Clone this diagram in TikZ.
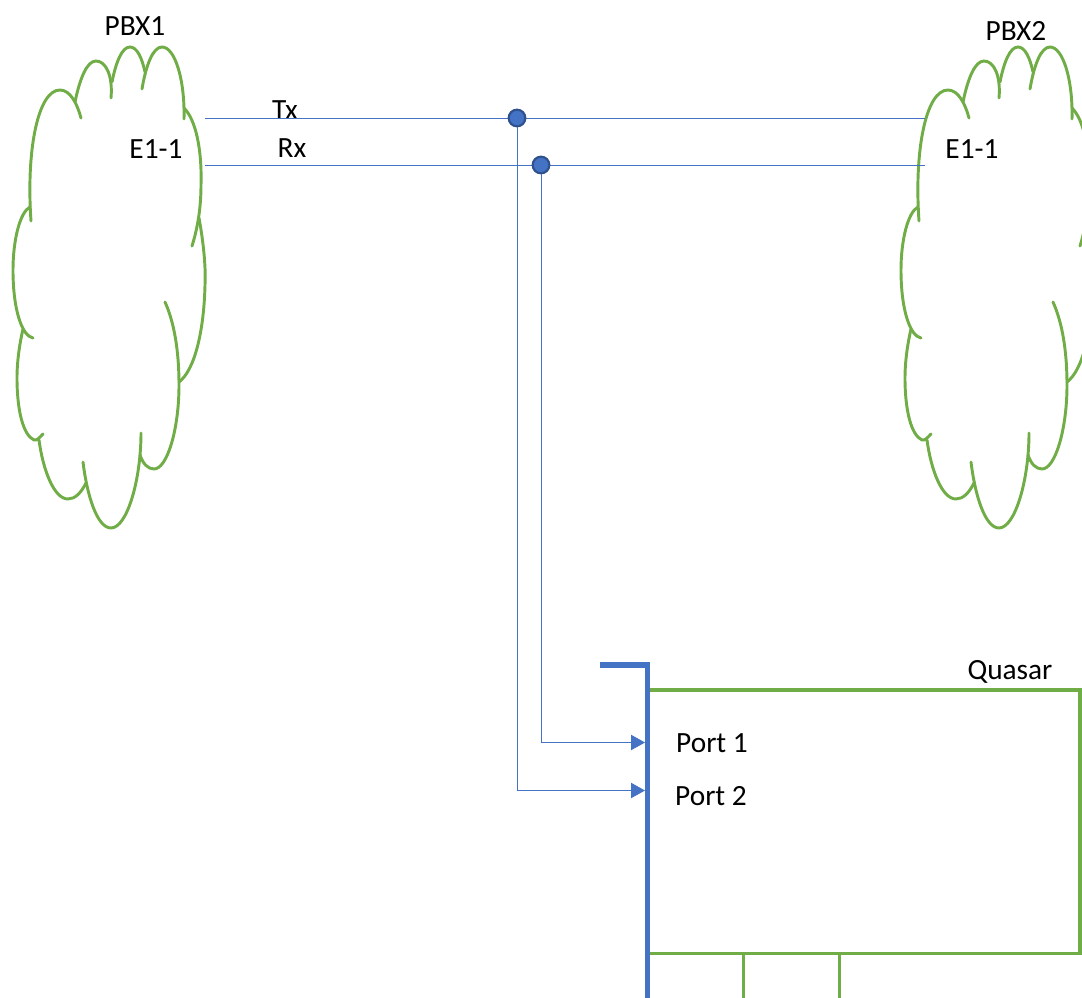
\documentclass[tikz,border=0pt]{standalone}
\usepackage{fontspec}
\setmainfont{Carlito}
\usetikzlibrary{arrows.meta}

\definecolor{wireblue}{HTML}{4472C4}
\definecolor{dotblue}{HTML}{2F528F}
\definecolor{boxgreen}{HTML}{70AD47}

\tikzset{
  txt/.style={font=\fontsize{22}{24}\selectfont, inner sep=0pt, text=black},
  wire/.style={draw=wireblue, line width=.7pt},
  feed/.style={wire, -{Triangle[length=10.5pt,width=11.5pt]}},
  tap/.style={circle, fill=wireblue, draw=dotblue, line width=1.6pt, minimum size=12.5pt, inner sep=0pt},
  bus/.style={draw=wireblue, line width=3.8pt},
  box/.style={draw=boxgreen, line width=2.4pt},
  puff/.style={draw=boxgreen, line width=2.2pt, line cap=round},
  pbxcloud/.pic={
    \draw[puff] (31,221) .. controls (26,150) and (38,90) .. (60,90) .. controls (70,90) and (77,103) .. (81,118);
    \draw[puff] (75,102) .. controls (80,78) and (87,61) .. (96,61) .. controls (106,61) and (113,76) .. (111,98);
    \draw[puff] (112,82) .. controls (116,62) and (122,47) .. (130,47) .. controls (137,47) and (142,58) .. (145,72);
    \draw[puff] (142,89) .. controls (146,65) and (153,47) .. (162,47) .. controls (175,47) and (185,80) .. (184,119);
    \draw[puff] (184,108) .. controls (196,120) and (202,150) .. (201,185) .. controls (201,210) and (197,230) .. (192,246);
    \draw[puff] (199,218) .. controls (203,240) and (206,265) .. (205,285) .. controls (204,330) and (195,370) .. (179,382);
    \draw[puff] (165,302) .. controls (174,322) and (179,350) .. (179,385) .. controls (179,430) and (167,469) .. (154,469) .. controls (148,469) and (143,464) .. (140,455);
    \draw[puff] (141,433) .. controls (141,480) and (127,528) .. (111,528) .. controls (97,528) and (87,495) .. (83,462);
    \draw[puff] (86,483) .. controls (81,493) and (75,499) .. (68,499) .. controls (54,499) and (43,470) .. (39,440);
    \draw[puff] (43,434) .. controls (40,437) and (37,441) .. (34,440) .. controls (23,435) and (17,410) .. (17,378) .. controls (17,360) and (20,342) .. (23,329);
    \draw[puff] (33,338) .. controls (22,336) and (13,310) .. (13,270) .. controls (13,240) and (20,212) .. (30,207);
  }
}

\begin{document}
\begin{tikzpicture}[x=.75pt,y=-.75pt]
\useasboundingbox (0,0) rectangle (1082,998);
\clip (0,0) rectangle (1082,998);

\pic at (0,0) {pbxcloud};
\pic at (888,0) {pbxcloud};

\draw (135,26)  node[txt] (pbx1)  {PBX1};
\draw (1016,31) node[txt] (pbx2)  {PBX2};
\draw (156,149) node[txt] (e11)   {E1-1};
\draw (972,149) node[txt] (e12)   {E1-1};
\draw (285,110) node[txt] (tx)    {Tx};
\draw (292,148) node[txt] (rx)    {Rx};
\draw (1010,672) node[txt] (quasar) {Quasar};
\draw (712,743) node[txt] (port1) {Port 1};
\draw (711,796) node[txt] (port2) {Port 2};

\coordinate (txa) at (205,118);
\coordinate (txb) at (925,118);
\coordinate (rxa) at (205,165);
\coordinate (rxb) at (925,165);
\coordinate (in1) at (645,742.5);
\coordinate (in2) at (645,790.5);

\draw[wire] (txa) -- (txb);
\draw[wire] (rxa) -- (rxb);

\draw (517,118) node[tap] (taptx) {};
\draw (541,165) node[tap] (taprx) {};

% box behind the bus
\coordinate (nw) at (649,690);
\coordinate (ne) at (1080,690);
\coordinate (se) at (1080,953.5);
\coordinate (sw) at (649,953.5);
\draw[box] (nw) -- (ne) -- (se) -- (sw);

\coordinate (lega) at (743.5,953.5);
\coordinate (legb) at (743.5,998);
\coordinate (legc) at (839.5,953.5);
\coordinate (legd) at (839.5,998);
\draw[box] (lega) -- (legb);
\draw[box] (legc) -- (legd);

\coordinate (busa) at (600,665);
\coordinate (busb) at (647.5,665);
\coordinate (busc) at (647.5,998);
\draw[bus] (busa) -- (busb) -- (busc);

\draw[feed] (taprx) |- (in1);
\draw[feed] (taptx) |- (in2);
\end{tikzpicture}
\end{document}
